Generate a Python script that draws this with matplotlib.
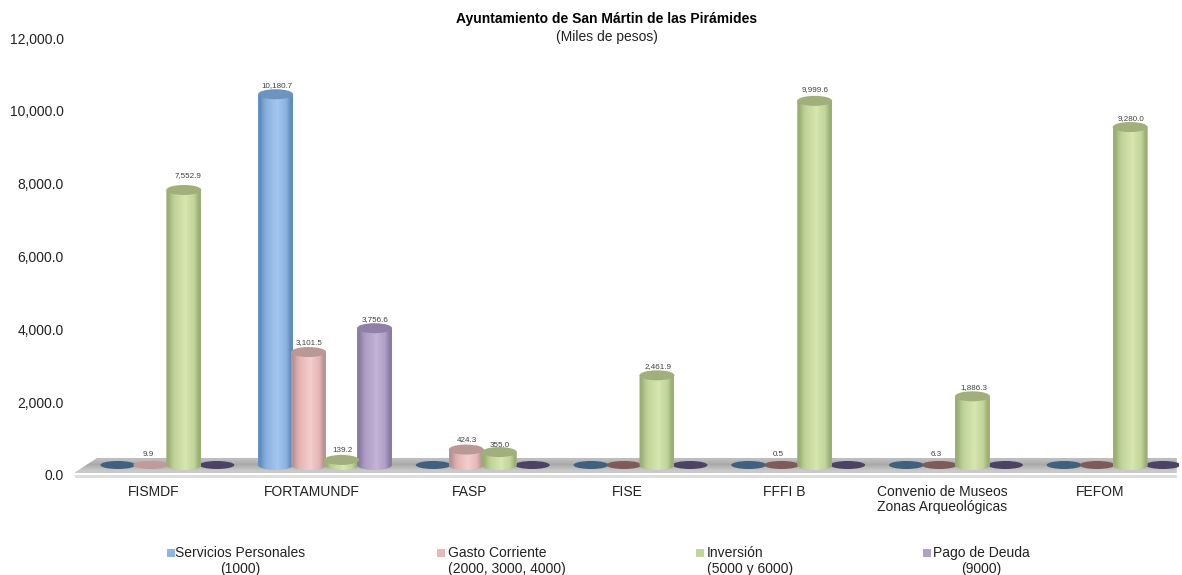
import numpy as np
import matplotlib
matplotlib.use("Agg")
import matplotlib.pyplot as plt
from matplotlib.colors import LinearSegmentedColormap
from matplotlib.patches import Ellipse, PathPatch, Polygon, Rectangle
from matplotlib.path import Path

plt.rcParams["font.family"] = ["Liberation Sans", "DejaVu Sans"]

categories = ["FISMDF", "FORTAMUNDF", "FASP", "FISE", "FFFI B",
              "Convenio de Museos\nZonas Arqueológicas", "FEFOM"]
servicios = [0, 10180.7, 0, 0, 0, 0, 0]
gasto = [9.9, 3101.5, 424.3, 0, 0.5, 6.3, 0]
inversion = [7552.9, 139.2, 355.0, 2461.9, 9999.6, 1886.3, 9280.0]
deuda = [0, 3756.6, 0, 0, 0, 0, 0]
series = [servicios, gasto, inversion, deuda]
series_names = ["Servicios Personales\n(1000)", "Gasto Corriente\n(2000, 3000, 4000)",
                "Inversión\n(5000 y 6000)", "Pago de Deuda\n(9000)"]
yticks = [0, 2000, 4000, 6000, 8000, 10000, 12000]

COLORS = ["#8DB4E2", "#E6B8B7", "#C3D69B", "#B1A0C7"]
LIGHT = ["#A3C6F0", "#F3CDCC", "#D6E6AE", "#C3B3D8"]
EDGES = ["#5F8DBF", "#B89392", "#9BAF74", "#8A7BA3"]
TOPS = ["#6E93BD", "#B99896", "#A0AF7C", "#8F80A6"]
FLAT = ["#3F607F", "#7E5A58", "#7E8F5C", "#4C4264"]

W, H = 1182, 575
fig = plt.figure(figsize=(W / 100, H / 100), dpi=100, facecolor="white")
ax = fig.add_axes([75 / W, (H - 475) / H, 1104 / W, 437 / H])
ax.set_facecolor("white")

px_y = 12000 / 437      # data units per pixel, vertical
px_x = 7 / 1104         # data units per pixel, horizontal
BASE = 10 * px_y
BAR_W = 35 * px_x
ELL_H = 10 * px_y
OFFSETS = np.array([-1.5, -0.5, 0.5, 1.5]) * 33 * px_x + 13.5 * px_x

# floor of the fake 3d chart, grey band with a light strip under it
floor = Polygon([(-0.001, 0.0046), (0.02, 0.039), (0.998, 0.039), (0.998, 0.0046)], closed=True,
                transform=ax.transAxes, facecolor="none", edgecolor="none")
ax.add_patch(floor)
floor_cmap = LinearSegmentedColormap.from_list("floor", ["#BDBDBD", "#A9A9A9", "#C9C9C9"])
floor_im = ax.imshow(np.array([[0.0], [0.55], [1.0]]), cmap=floor_cmap, extent=(0, 1, 0.0046, 0.039),
                     transform=ax.transAxes, aspect="auto", interpolation="bilinear", zorder=1)
floor_im.set_clip_path(floor)
ax.add_patch(Rectangle((0, -0.007), 0.998, 0.007, transform=ax.transAxes, facecolor="#DEDEDE",
                       edgecolor="none", clip_on=False, zorder=1))

# label nudges in pixels (dx, dy) where the default spot is off
label_shift = {(0, 2): (4, 14), (2, 2): (0, 7), (1, 1): (1, 10), (4, 2): (0, 11)}

for s, values in enumerate(series):
    cmap = LinearSegmentedColormap.from_list("c", [EDGES[s], COLORS[s], LIGHT[s]], N=64)
    for i, v in enumerate(values):
        x = i + OFFSETS[s]
        if v < 50:
            face = "#C29A98" if v >= 9 else FLAT[s]
            ax.add_patch(Ellipse((x, BASE), BAR_W, ELL_H * 0.8, facecolor=face,
                                 edgecolor="none", zorder=3 + s * 0.01))
            if v > 0:
                ax.text(x - 3 * px_x, BASE + 11 * px_y, f"{v:,.1f}", ha="center", va="center",
                        fontsize=5.8, color="#404040", zorder=6)
            continue
        top = BASE + v
        t = np.linspace(np.pi, 2 * np.pi, 40)
        xs = x + BAR_W / 2 * np.cos(t)
        ys = BASE + ELL_H / 2 * np.sin(t)
        verts = list(zip(xs, ys)) + [(x + BAR_W / 2, top), (x - BAR_W / 2, top), (xs[0], ys[0])]
        clip = PathPatch(Path(verts), transform=ax.transData, facecolor="none", edgecolor="none")
        ax.add_patch(clip)
        im = ax.imshow(np.array([[0.0, 0.35, 0.55, 0.8, 1.0, 0.7, 0.45, 0.0]]), cmap=cmap, vmin=0, vmax=1,
                       extent=(x - BAR_W / 2, x + BAR_W / 2, BASE - ELL_H / 2, top),
                       aspect="auto", interpolation="bilinear", zorder=4)
        im.set_clip_path(clip)
        ax.add_patch(Ellipse((x, top), BAR_W, ELL_H, facecolor=TOPS[s],
                             edgecolor="none", zorder=5))
        dx, dy = label_shift.get((i, s), (1, 9))
        ax.text(x + dx * px_x, top + dy * px_y, f"{v:,.1f}", ha="center", va="center",
                fontsize=5.8, color="#404040", zorder=6)

ax.set_xlim(-0.5, 6.5)
ax.set_ylim(0, 12000)
ax.set_yticks(yticks)
ax.set_yticklabels([f"{t:,.1f}" for t in yticks], fontsize=10, color="#222222")
ax.set_xticks(range(len(categories)))
ax.set_xticklabels(categories, fontsize=10, color="#222222", linespacing=1.1)
ax.tick_params(axis="y", length=0, pad=8)
ax.tick_params(axis="x", length=0, pad=7)
for spine in ax.spines.values():
    spine.set_visible(False)

fig.text(607 / W, 1 - 19 / H, "Ayuntamiento de San Mártin de las Pirámides", ha="center",
         va="center", fontsize=10, fontweight="bold", color="black")
fig.text(607 / W, 1 - 37 / H, "(Miles de pesos)", ha="center", va="center", fontsize=10, color="#222222")

# first and last labels are centred, the middle two start flush left
legend_x = [240, 448, 707, 981]
legend_ha = ["center", "left", "left", "center"]
marker_x = [167, 437, 696, 923]
for s, name in enumerate(series_names):
    fig.text(legend_x[s] / W, 1 - 561 / H, name, ha=legend_ha[s], va="center", fontsize=10,
             color="#222222", linespacing=1.2, multialignment=legend_ha[s])
    fig.add_artist(Rectangle((marker_x[s] / W, 1 - 557 / H), 8 / W, 8 / H, transform=fig.transFigure,
                             facecolor=COLORS[s], edgecolor="none"))

fig.savefig("out.png", dpi=100, facecolor="white")
